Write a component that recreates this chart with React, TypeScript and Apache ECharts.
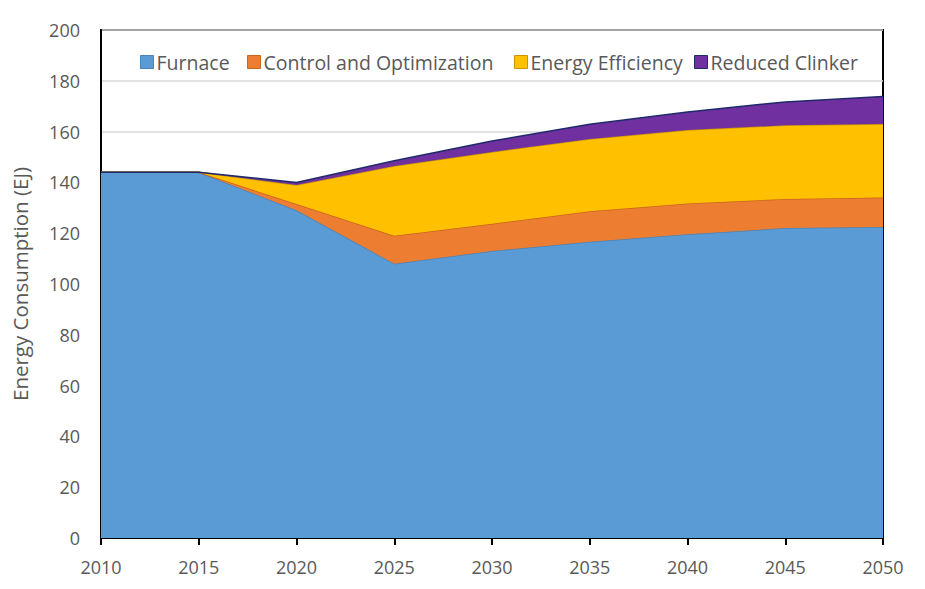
import React, { useEffect, useRef } from "react";
import * as echarts from "echarts";

const years = ["2010", "2015", "2020", "2025", "2030", "2035", "2040", "2045", "2050"];
const furnace = [144, 144, 129, 108, 113, 116.6, 119.6, 122, 122.4];
const controlOpt = [0, 0, 2.5, 11, 10.7, 12, 12.1, 11.5, 11.7];
const energyEff = [0, 0, 7.5, 27.5, 28.3, 28.5, 28.9, 29, 28.9];
const reducedClinker = [0, 0, 1, 2, 4.3, 5.8, 7.1, 9.2, 10.8];

const seriesNames = ["Furnace", "Control and Optimization", "Energy Efficiency", "Reduced Clinker"];
const fillColors = ["#5B9BD5", "#ED7D31", "#FFC000", "#7030A0"];
const lineColors = ["#4A83B8", "#C8641E", "#C89600", "#1F2A6B"];
const legendLefts = [135, 242, 509, 689];

const FONT = "'Open Sans', sans-serif";

export default function App() {
  const ref = useRef<HTMLDivElement>(null);
  useEffect(() => {
    if (!ref.current) return;
    const chart = echarts.init(ref.current, null, { renderer: "svg" });
    const data = [furnace, controlOpt, energyEff, reducedClinker];
    chart.setOption({
      animation: false,
      backgroundColor: "#fff",
      grid: {
        left: 101,
        right: 42,
        top: 30,
        bottom: 51,
        show: true,
        borderColor: "#000",
        borderWidth: 2,
        backgroundColor: "transparent",
      },
      legend: seriesNames.map((n, i) => ({
        data: [
          {
            name: n,
            itemStyle: { color: fillColors[i], borderColor: lineColors[i], borderWidth: 1 },
          },
        ],
        left: legendLefts[i],
        top: 47,
        icon: "rect",
        itemWidth: 13,
        itemHeight: 13,
        itemGap: 6,
        textStyle: { fontFamily: FONT, fontSize: 19.5, color: "#595959", padding: [0, 0, 0, -2] },
      })),
      xAxis: {
        type: "category",
        data: years,
        boundaryGap: false,
        axisLine: { show: true, lineStyle: { color: "#000", width: 2 } },
        axisTick: { show: true, length: 7, lineStyle: { color: "#000", width: 2 }, alignWithLabel: true },
        axisLabel: { fontFamily: FONT, fontSize: 18, color: "#595959", margin: 20 },
        splitLine: { show: false },
      },
      yAxis: {
        type: "value",
        min: 0,
        max: 200,
        interval: 20,
        name: "Energy Consumption (EJ)",
        nameLocation: "middle",
        nameGap: 71,
        nameTextStyle: { fontFamily: FONT, fontSize: 20.5, color: "#595959" },
        axisLine: { show: true, lineStyle: { color: "#000", width: 2 } },
        axisTick: { show: false },
        axisLabel: { fontFamily: FONT, fontSize: 18, color: "#595959", margin: 21 },
        splitLine: { show: true, lineStyle: { color: "#D9D9D9", width: 1.5 } },
      },
      series: seriesNames.map((n, i) => ({
        name: n,
        type: "line",
        stack: "total",
        data: data[i],
        symbol: "none",
        smooth: false,
        itemStyle: { color: fillColors[i] },
        lineStyle: { color: lineColors[i], width: 1.5 },
        areaStyle: { color: fillColors[i], opacity: 1 },
        z: 2 + i,
      })),
    });
    return () => chart.dispose();
  }, []);
  return <div ref={ref} style={{ width: 925, height: 589, position: "absolute", left: 0, top: 0 }} />;
}
